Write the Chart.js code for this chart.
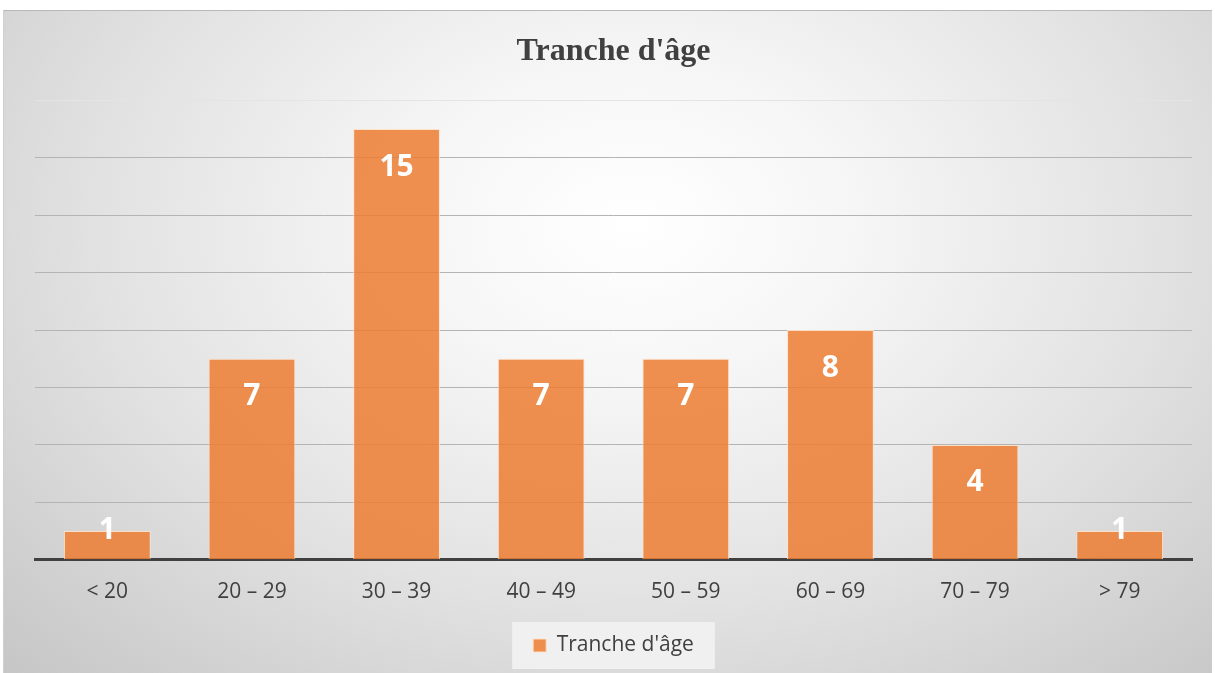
<!DOCTYPE html>
<html>
<head>
<meta charset="utf-8">
<script src="https://cdn.jsdelivr.net/npm/chart.js@4.4.0/dist/chart.umd.min.js"></script>
<style>
  body { margin: 0; background: #ffffff; }
  #wrap {
    position: absolute; left: 3px; top: 10px; width: 1209px; height: 663px;
    border-top: 1px solid #b8b8b8; border-left: 1px solid #d0d0d0;
    box-sizing: border-box;
    background: radial-gradient(ellipse farthest-corner at 52% 32%, #ffffff 0%, #f6f6f6 25%, #e2e2e2 60%, #c6c6c6 100%);
  }
</style>
</head>
<body>
<div id="wrap"><canvas id="ageChart"></canvas></div>
<script>
const categories = ["< 20", "20 – 29", "30 – 39", "40 – 49", "50 – 59", "60 – 69", "70 – 79", "> 79"];
const counts = [1, 7, 15, 7, 7, 8, 4, 1];
const seriesName = "Tranche d'âge";

// white value labels near the top of each bar
const valueLabels = {
  id: 'valueLabels',
  afterDatasetsDraw(chart) {
    const ctx = chart.ctx;
    const meta = chart.getDatasetMeta(0);
    ctx.save();
    ctx.fillStyle = '#ffffff';
    ctx.font = 'bold 30px "Open Sans"';
    ctx.textAlign = 'center';
    ctx.textBaseline = 'middle';
    meta.data.forEach((bar, i) => {
      const h = bar.base - bar.y;
      const ty = h > 60 ? bar.y + 38 : bar.y - 1;
      ctx.fillText(String(counts[i]), bar.x, ty);
    });
    ctx.restore();
  }
};

// light panel behind the legend
const legendPanel = {
  id: 'legendPanel',
  beforeDraw(chart) {
    const boxes = chart.legend && chart.legend.legendHitBoxes;
    if (!boxes || !boxes.length) return;
    const b = boxes[0];
    const cx = b.left + b.width / 2, cy = b.top + b.height / 2;
    const w = b.width + 42, h = 47;
    const ctx = chart.ctx;
    ctx.save();
    ctx.fillStyle = 'rgba(242,242,242,0.9)';
    ctx.fillRect(cx - w / 2, cy - h / 2, w, h);
    ctx.restore();
  }
};

const ctx = document.getElementById("ageChart").getContext("2d");
new Chart(ctx, {
  type: 'bar',
  data: {
    labels: categories,
    datasets: [{
      label: seriesName,
      data: counts,
      backgroundColor: 'rgba(237,125,49,0.85)',
      borderColor: 'rgba(255,225,200,0.9)',
      borderWidth: 1,
      borderSkipped: 'bottom',
      barPercentage: 0.6,
      categoryPercentage: 1
    }]
  },
  options: {
    responsive: true,
    maintainAspectRatio: false,
    animation: false,
    layout: { padding: { left: 31, right: 20, bottom: 7 } },
    plugins: {
      title: {
        display: true,
        text: seriesName,
        color: '#404040',
        font: { family: '"Liberation Serif"', size: 32, weight: 'bold' },
        padding: { top: 22, bottom: 29 }
      },
      legend: {
        position: 'bottom',
        labels: {
          color: '#404040',
          font: { family: '"Open Sans"', size: 21 },
          boxWidth: 13,
          boxHeight: 13,
          padding: 10
        }
      },
      tooltip: { enabled: false }
    },
    scales: {
      x: {
        grid: { display: false, drawTicks: false },
        border: { color: '#404040', width: 3 },
        ticks: {
          color: '#404040',
          font: { family: '"Open Sans"', size: 21 },
          padding: 20
        }
      },
      y: {
        min: 0,
        max: 16,
        ticks: { display: false, stepSize: 2 },
        border: { display: false },
        grid: {
          drawTicks: false,
          color: c => c.tick.value === 16 ? '#e4e4e4' : (c.tick.value === 0 ? 'rgba(0,0,0,0)' : '#b4b4b4'),
          lineWidth: 1
        }
      }
    }
  },
  plugins: [valueLabels, legendPanel]
});
</script>
</body>
</html>
